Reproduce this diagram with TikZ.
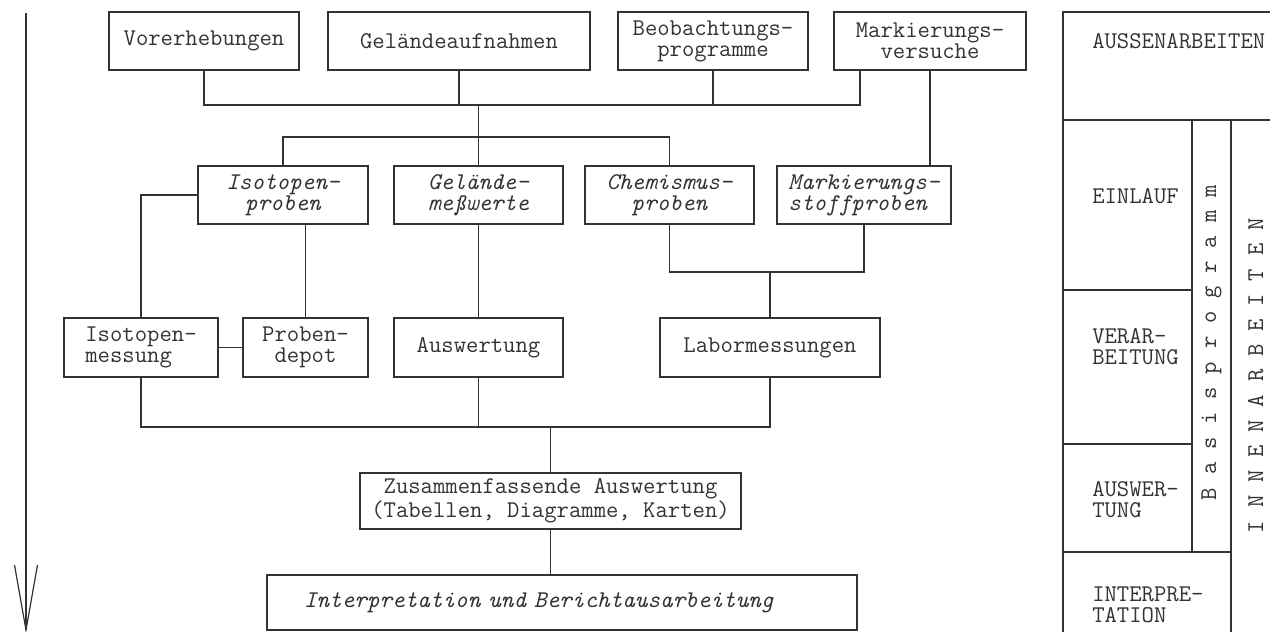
\documentclass[tikz,border=0pt]{standalone}
\usepackage{fontspec}
\usepackage{tikz}
\usetikzlibrary{calc}
\definecolor{ink}{gray}{0.2}
\newcommand\chartfont{\fontsize{12pt}{10.5pt}\selectfont\ttfamily}
\tikzset{
  box/.style={draw,inner sep=0pt,align=center},
  ibox/.style={box,font=\chartfont\itshape},
  letter/.style={rotate=90,inner sep=0pt,anchor=base},
}

\begin{document}
\begin{tikzpicture}[x=0.5pt,y=-0.5pt,line width=0.6pt,color=ink,font=\chartfont]
\useasboundingbox (0,0) rectangle (1270,632);
%time arrow
\coordinate (atop) at (26,13);
\coordinate (atip) at (26,630);
\draw (atop)--(atip);
\draw (14.5,565)--(atip)--(37.5,565);
%field work
\node[box,minimum width=95pt,minimum height=29pt] (vor) at (204,41) {Vorerhebungen};
\node[box,minimum width=131pt,minimum height=29pt] (gel) at (459,41) {Geländeaufnahmen};
\node[box,minimum width=95pt,minimum height=29pt] (beo) at (713,41) {Beobachtungs-\\programme};
\node[box,minimum width=96pt,minimum height=29pt] (mark) at (930,41) {Markierungs-\\versuche};
%samples
\node[ibox,minimum width=85pt,minimum height=29pt] (iso) at (283,195) {Isotopen-\\proben};
\node[ibox,minimum width=84.5pt,minimum height=29pt] (gmw) at (478.5,195) {Gelände-\\meßwerte};
\node[ibox,minimum width=84.5pt,minimum height=29pt] (chem) at (669.5,195) {Chemismus-\\proben};
\node[ibox,minimum width=87pt,minimum height=29pt,align=left] (mst) at (864,195) {Markierungs-\\stoffproben};
%processing
\node[box,minimum width=77pt,minimum height=29.5pt,align=left] (ism) at (141,347.5) {Isotopen-\\messung};
\node[box,minimum width=62.5pt,minimum height=29.5pt] (dep) at (305.5,347.5) {Proben-\\depot};
\node[box,minimum width=84.5pt,minimum height=29.5pt] (ausw) at (478.5,347.5) {Auswertung};
\node[box,minimum width=110pt,minimum height=29.5pt] (lab) at (770,347.5) {Labormessungen};
%evaluation
\node[box,minimum width=190.5pt,minimum height=28pt] (zus) at (550.5,501) {Zusammenfassende Auswertung\\(Tabellen, Diagramme, Karten)};
\node[ibox,inner xsep=18.5pt,text width=258pt,align=left,minimum height=27.5pt] (ber) at (562,602.5) {Interpretation und Berichtausarbeitung};
%connectors
\coordinate (b1) at (478.5,105);
\coordinate (mk1) at (860,70);
\draw (vor.south)--(vor.south|-b1)-|(mk1);
\draw (gel.south)--(gel.south|-b1);
\draw (beo.south)--(beo.south|-b1);
\draw (b1)--(gmw.north);
\coordinate (b2) at (478.5,137);
\draw (iso.north)|-(b2)-|(chem.north);
\draw (mark.south)--(mark.south|-mst.north);
\draw (iso.west)-|(ism.north);
\draw (iso.south-|dep.north)--(dep.north);
\draw (ism)--(dep);
\draw (gmw)--(ausw);
\coordinate (b3) at (770,272);
\draw (chem.south)|-(b3)-|(mst.south);
\draw (b3)--(lab.north);
\coordinate (b4) at (550.5,427);
\draw (ism.south)|-(b4)-|(lab.south);
\draw (ausw.south)--(ausw.south|-b4);
\draw (b4)--(zus.north);
\draw (zus.south)--(zus.south|-ber.north);
%phases table
\draw (1290,12)--(1063,12)--(1063,640);
\draw (1063,120)--(1290,120);
\draw (1063,290)--(1192,290);
\draw (1063,444)--(1192,444);
\draw (1063,552)--(1231,552);
\draw (1192,120)--(1192,552);
\draw (1231,120)--(1231,640);
\node[anchor=west] (aussen) at (1085,41) {AUSSENARBEITEN};
\node[anchor=west] (einl) at (1085,196) {EINLAUF};
\node[anchor=west,align=left] (verarb) at (1085,347) {VERAR-\\BEITUNG};
\node[anchor=west,align=left] (auswt) at (1085,500) {AUSWER-\\TUNG};
\node[anchor=west,align=left] (interp) at (1085,605) {INTERPRE-\\TATION};
\foreach \ch [count=\i] in {B,a,s,i,s,p,r,o,g,r,a,m,m}
  \node[letter] (bas\i) at (1216,{494-25.2*(\i-1)}) {\ch};
\foreach \ch [count=\i] in {I,N,N,E,N,A,R,B,E,I,T,E,N}
  \node[letter] (inn\i) at (1263,{527-25.2*(\i-1)}) {\ch};
\end{tikzpicture}
\end{document}
